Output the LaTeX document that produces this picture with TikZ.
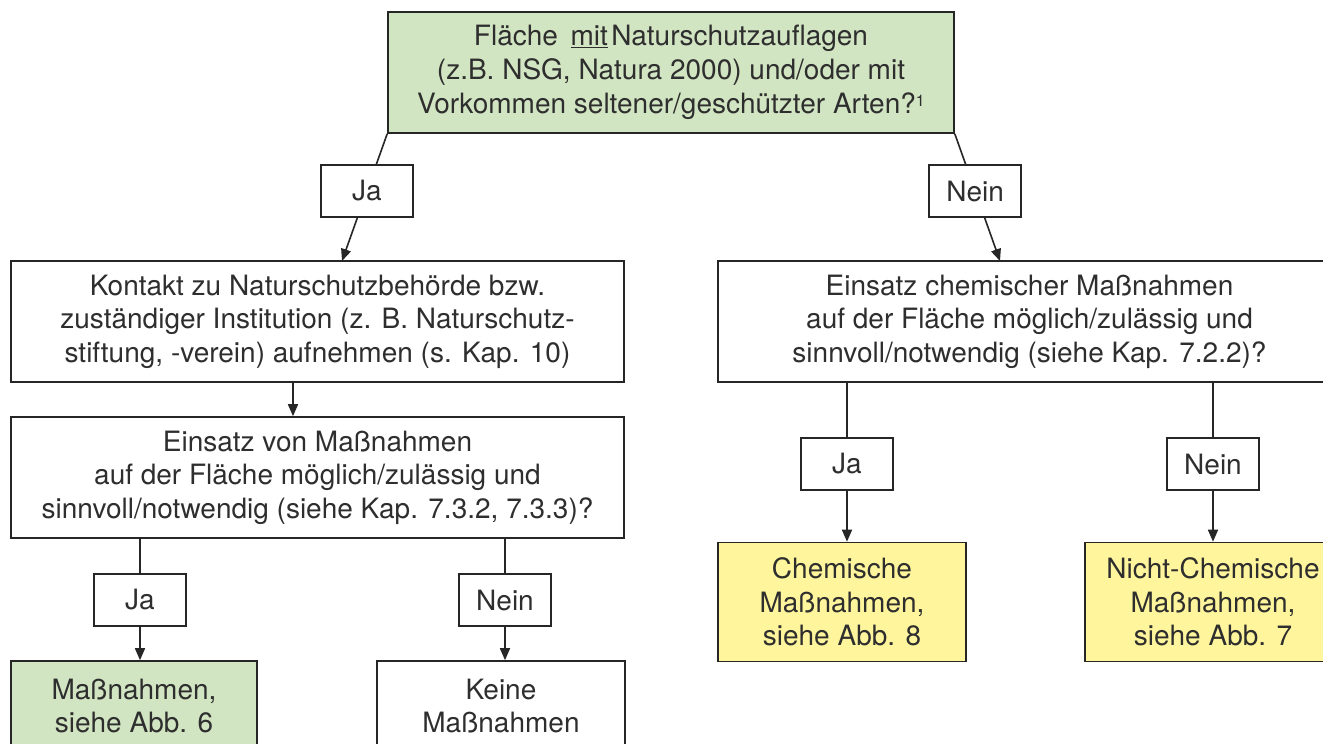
\documentclass[tikz,border=0pt]{standalone}
\usepackage{fontspec}
\setmainfont{TeX Gyre Heros}
\usetikzlibrary{arrows.meta}
\definecolor{gfill}{HTML}{D2E5C2}
\definecolor{yfill}{HTML}{FFF59C}
\definecolor{ink}{HTML}{262626}
\definecolor{txt}{HTML}{2E2E2E}
\tikzset{
  box/.style={draw=ink, line width=1.6pt, fill=white, text=txt, align=center, inner sep=0pt,
    font=\fontsize{28}{33.5}\selectfont},
  lbl/.style={box, minimum width=92pt, minimum height=52pt},
  conn/.style={draw=ink, line width=1.6pt},
  arr/.style={conn, -{Triangle[length=12pt,width=10pt]}},
}
\begin{document}
\begin{tikzpicture}[x=1pt,y=-1pt]
\useasboundingbox (0,0) rectangle (1323,744);
\clip (0,0) rectangle (1323,744);
\fill[white] (0,0) rectangle (1323,744);
% main boxes
\node[box, fill=gfill, minimum width=566pt, minimum height=121pt,
      font=\fontsize{28}{34}\selectfont] (top) at (671,72.5)
  {Fläche\hspace{0.45em}\underline{mit}\hspace{0.12em}Naturschutzauflagen\\
   (z.B. NSG, Natura 2000) und/oder mit\\
   Vorkommen seltener/geschützter Arten?{\fontsize{16}{16}\selectfont\raisebox{7pt}{1}}};
\node[box, minimum width=613pt, minimum height=121pt] (kontakt) at (317.5,321.5)
  {Kontakt zu Naturschutzbehörde bzw.\\
   zuständiger Institution (z. B. Naturschutz-\\
   stiftung, -verein) aufnehmen (s. Kap. 10)};
\node[box, minimum width=613pt, minimum height=121pt] (einsatz) at (317.5,477.5)
  {Einsatz von Maßnahmen\\
   auf der Fläche möglich/zulässig und\\
   sinnvoll/notwendig (siehe Kap. 7.3.2, 7.3.3)?};
\node[box, fill=gfill, minimum width=246pt, minimum height=90pt] (massn) at (134,706)
  {Maßnahmen,\\siehe Abb. 6};
\node[box, minimum width=248pt, minimum height=90pt] (keine) at (501,706)
  {Keine\\Maßnahmen};
\node[box, minimum width=623pt, minimum height=121pt] (chem) at (1029.5,321.5)
  {Einsatz chemischer Maßnahmen\\
   auf der Fläche möglich/zulässig und\\
   sinnvoll/notwendig (siehe Kap. 7.2.2)?};
\node[box, fill=yfill, minimum width=248pt, minimum height=119pt] (chemisch) at (842,602)
  {Chemische\\Maßnahmen,\\siehe Abb. 8};
\node[box, fill=yfill, minimum width=256pt, minimum height=119pt] (nicht) at (1213,602)
  {Nicht-Chemische\\Maßnahmen,\\siehe Abb. 7};
% label boxes (vertical branches)
\node[lbl] (jaB) at (140,600) {Ja};
\node[lbl] (neinB) at (505,600) {Nein};
\node[lbl] (jaR) at (847,464) {Ja};
\node[lbl] (neinR) at (1213,464) {Nein};
% end points of the slanted connectors
\coordinate (jaEnd) at (342,261);
\coordinate (neinEnd) at (1000,261);
% connectors
\draw[arr] (top.south west) -- node[lbl, pos=0.45] (jaT) {Ja} (jaEnd);
\draw[arr] (top.south east) -- node[lbl, pos=0.45] (neinT) {Nein} (neinEnd);
\draw[arr] (kontakt.south -| 293,0) -- (einsatz.north -| 293,0);
\draw[conn] (jaB |- einsatz.south) -- (jaB.north);
\draw[arr] (jaB.south) -- (jaB |- massn.north);
\draw[conn] (neinB |- einsatz.south) -- (neinB.north);
\draw[arr] (neinB.south) -- (neinB |- keine.north);
\draw[conn] (jaR |- chem.south) -- (jaR.north);
\draw[arr] (jaR.south) -- (jaR |- chemisch.north);
\draw[conn] (neinR |- chem.south) -- (neinR.north);
\draw[arr] (neinR.south) -- (neinR |- nicht.north);
\end{tikzpicture}
\end{document}
